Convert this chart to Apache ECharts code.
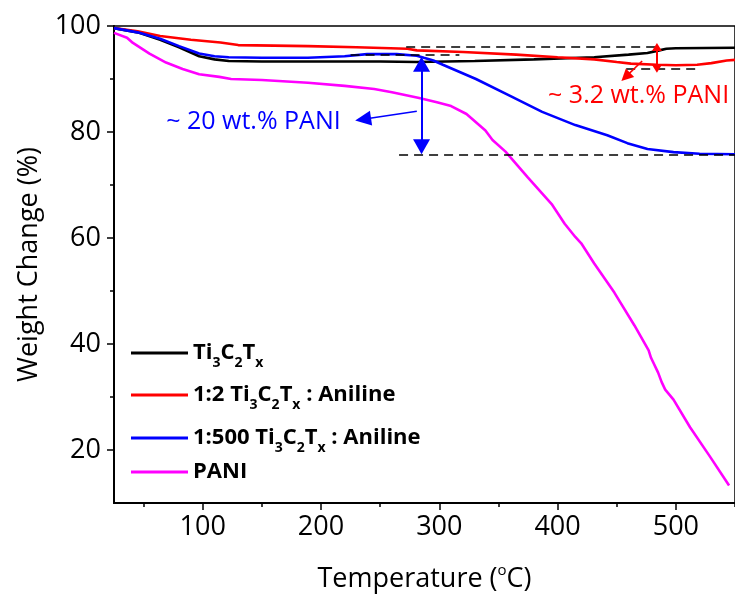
<!DOCTYPE html>
<html>
<head>
<meta charset="utf-8">
<script src="https://cdn.jsdelivr.net/npm/echarts@6/dist/echarts.min.js"></script>
<style>
  html, body { margin: 0; padding: 0; background: #fff; }
  #chart { width: 735px; height: 600px; }
</style>
</head>
<body>
<div id="chart"></div>
<script>
// TGA curves: temperature (°C) vs. remaining weight (%)
const tiTemp   = [25, 45, 64, 80, 97, 110, 122, 150, 200, 250, 281, 330, 380, 431, 460, 476, 486, 492, 500, 550];
const tiWeight = [99.6, 98.8, 97.4, 96.0, 94.3, 93.7, 93.4, 93.3, 93.3, 93.3, 93.2, 93.4, 93.7, 94.1, 94.6, 94.9, 95.4, 95.7, 95.8, 95.9];

const r2Temp   = [25, 45, 64, 90, 115, 130, 160, 189, 230, 273, 281, 320, 365, 400, 431, 450, 462, 484, 500, 518, 530, 543, 550];
const r2Weight = [99.6, 99.0, 98.1, 97.4, 96.9, 96.4, 96.3, 96.2, 96.0, 95.7, 95.4, 95.1, 94.6, 94.1, 93.7, 93.2, 92.9, 92.7, 92.6, 92.7, 93.0, 93.5, 93.6];

const r500Temp   = [25, 45, 64, 80, 97, 110, 122, 150, 189, 220, 239, 264, 281, 287, 295, 303, 331, 359, 387, 415, 442, 459, 476, 498, 520, 550];
const r500Weight = [99.6, 98.8, 97.6, 96.2, 94.8, 94.3, 94.1, 94.0, 94.0, 94.3, 94.7, 94.7, 94.4, 94.0, 93.5, 92.7, 90.0, 86.9, 83.8, 81.3, 79.4, 77.9, 76.8, 76.2, 75.9, 75.8];

const paniTemp   = [25, 36, 41, 55, 69, 83, 97, 114, 124, 150, 189, 220, 245, 260, 283, 298, 310, 323, 339, 345, 356, 375, 395, 406, 415, 420, 431, 448, 465, 477, 479, 485, 488, 491, 498, 512, 529, 545];
const paniWeight = [98.7, 97.8, 96.8, 94.8, 93.1, 91.9, 90.9, 90.4, 90.0, 89.8, 89.3, 88.7, 88.1, 87.5, 86.4, 85.6, 84.9, 83.4, 80.3, 78.5, 76.3, 71.4, 66.4, 62.7, 60.2, 59.0, 55.2, 49.7, 43.5, 38.8, 37.4, 34.6, 32.8, 31.4, 29.5, 24.3, 18.7, 13.3];

const seriesNames = ['Ti3C2Tx', '1:2 Ti3C2Tx : Aniline', '1:500 Ti3C2Tx : Aniline', 'PANI'];

const xTickLabels = [100, 200, 300, 400, 500];
const xMinorTicks = [50, 150, 250, 350, 450, 550];
const yTickLabels = [20, 40, 60, 80, 100];
const yMinorTicks = [30, 50, 70, 90];

// Annotation geometry (data units)
const pureLevel = 96.1, compositeLevel2 = 92.0;      // plateau levels for the 1:2 sample
const pureLevelShort = 94.6;
const residue500 = 75.8;                             // final residue of the 1:500 sample
const label20 = '~ 20 wt.% PANI';
const label32 = '~ 3.2 wt.% PANI';

const zip = (xs, ys) => xs.map((x, i) => [x, ys[i]]);

const FONT = 'Open Sans';
const sub = '{n|Ti}{s|3}{n|C}{s|2}{n|T}{s|x}';
const legendText = {
  'Ti3C2Tx': sub,
  '1:2 Ti3C2Tx : Aniline': '{n|1:2 }' + sub + '{n| : Aniline}',
  '1:500 Ti3C2Tx : Aniline': '{n|1:500 }' + sub + '{n| : Aniline}',
  'PANI': '{n|PANI}'
};
// subscripts: a top padding pushes the glyphs below the main baseline
const legendRich = {
  n: { fontFamily: FONT, fontWeight: 'bold', fontSize: 22, lineHeight: 26, color: '#000', verticalAlign: 'middle' },
  s: { fontFamily: FONT, fontWeight: 'bold', fontSize: 14, lineHeight: 2, padding: [20, 0, 0, 0], color: '#000', verticalAlign: 'middle' }
};
const legendTops = [336, 378, 421, 461];

const dashed = { type: [9, 6], width: 1.6, color: '#000' };
const noLabel = { show: false };

function lineSeries(name, data, color, extra) {
  return Object.assign({
    name, type: 'line', data, color,
    xAxisIndex: 0, yAxisIndex: 0,
    showSymbol: false, symbol: 'none', smooth: false,
    lineStyle: { width: 2.6, color },
    emphasis: { disabled: true },
    animation: false
  }, extra || {});
}

const chart = echarts.init(document.getElementById('chart'), null, { renderer: 'canvas' });

const option = {
  backgroundColor: '#fff',
  animation: false,
  grid: { left: 114, top: 26, right: -7, bottom: 90, show: true, borderColor: '#000', borderWidth: 1.5, backgroundColor: 'transparent' },
  legend: seriesNames.map((name, i) => ({
    data: [name], orient: 'vertical', left: 131, top: legendTops[i], padding: 0,
    itemWidth: 57, itemHeight: 3, icon: 'rect', selectedMode: false,
    formatter: n => legendText[n],
    textStyle: { rich: legendRich }
  })),
  xAxis: [{
    type: 'value', min: 25, max: 550, position: 'bottom',
    name: 'Temperature ({sup|o}C)', nameLocation: 'middle', nameGap: 60,
    nameTextStyle: { fontFamily: FONT, fontSize: 27, color: '#000', lineHeight: 32,
      rich: { sup: { fontFamily: FONT, fontSize: 15, lineHeight: 10, verticalAlign: 'top', color: '#000' } } },
    axisLine: { show: true, onZero: false, lineStyle: { color: '#000', width: 2 } },
    axisTick: { show: true, inside: false, length: 7, customValues: xTickLabels, lineStyle: { color: '#000', width: 1.5 } },
    axisLabel: { customValues: xTickLabels, fontFamily: FONT, fontSize: 27, color: '#000', margin: 11 },
    splitLine: { show: false }
  }, {
    type: 'value', min: 25, max: 550, position: 'bottom',
    axisLine: { show: false },
    axisTick: { show: true, inside: false, length: 4, customValues: xMinorTicks, lineStyle: { color: '#000', width: 1.5 } },
    axisLabel: { show: false },
    splitLine: { show: false }
  }],
  yAxis: [{
    type: 'value', min: 10, max: 100, position: 'left',
    name: 'Weight Change (%)', nameLocation: 'middle', nameGap: 71,
    nameTextStyle: { fontFamily: FONT, fontSize: 27, color: '#000' },
    axisLine: { show: true, onZero: false, lineStyle: { color: '#000', width: 2 } },
    axisTick: { show: true, inside: false, length: 7, customValues: yTickLabels, lineStyle: { color: '#000', width: 1.5 } },
    axisLabel: { customValues: yTickLabels, fontFamily: FONT, fontSize: 27, color: '#000', margin: 13 },
    splitLine: { show: false }
  }, {
    type: 'value', min: 10, max: 100, position: 'left',
    axisLine: { show: false },
    axisTick: { show: true, inside: false, length: 4, customValues: yMinorTicks, lineStyle: { color: '#000', width: 1.5 } },
    axisLabel: { show: false },
    splitLine: { show: false }
  }],
  series: [
    lineSeries(seriesNames[0], zip(tiTemp, tiWeight), '#000000'),
    lineSeries(seriesNames[1], zip(r2Temp, r2Weight), '#ff0000', {
      markLine: {
        silent: true, animation: false, label: noLabel, emphasis: { disabled: true },
        symbol: ['none', 'none'],
        data: [
          // plateau guides
          [{ coord: [272, pureLevel], lineStyle: dashed }, { coord: [484, pureLevel] }],
          [{ coord: [225, pureLevelShort], lineStyle: dashed }, { coord: [317, pureLevelShort] }],
          [{ coord: [458, compositeLevel2], lineStyle: dashed }, { coord: [517, compositeLevel2] }],
          // double arrow between the two plateaus
          [{ coord: [484, 96.05], symbol: 'triangle', symbolSize: [10, 8], lineStyle: { type: 'solid', width: 2, color: '#ff0000' } },
           { coord: [484, 91.95], symbol: 'triangle', symbolSize: [10, 8] }],
          // pointer towards the label
          [{ coord: [471.5, 93.4], symbol: 'none', lineStyle: { type: 'solid', width: 1.6, color: '#ff0000' } },
           { coord: [457.6, 90.4], symbol: 'triangle', symbolSize: [12, 12] }]
        ]
      },
      markPoint: {
        silent: true, animation: false, symbol: 'circle', symbolSize: 1,
        itemStyle: { color: 'rgba(0,0,0,0)' },
        data: [{ coord: [468.5, 86.85],
          label: { show: true, position: 'inside', formatter: label32, color: '#ff0000', fontFamily: FONT, fontSize: 25 } }]
      }
    }),
    lineSeries(seriesNames[2], zip(r500Temp, r500Weight), '#0000ff', {
      markLine: {
        silent: true, animation: false, label: noLabel, emphasis: { disabled: true },
        symbol: ['none', 'none'],
        data: [
          [{ coord: [266, residue500], lineStyle: dashed }, { coord: [550, residue500] }],
          // double arrow spanning the weight loss
          [{ coord: [285, 92.8], symbol: 'triangle', symbolSize: [17, 15], lineStyle: { type: 'solid', width: 2, color: '#0000ff' } },
           { coord: [285, 77.2], symbol: 'triangle', symbolSize: [17, 15] }],
          // pointer towards the label
          [{ coord: [281, 83.9], symbol: 'none', lineStyle: { type: 'solid', width: 1.6, color: '#0000ff' } },
           { coord: [235.6, 82.4], symbol: 'triangle', symbolSize: [15, 16] }]
        ]
      },
      markPoint: {
        silent: true, animation: false, symbol: 'circle', symbolSize: 1,
        itemStyle: { color: 'rgba(0,0,0,0)' },
        data: [{ coord: [142.9, 81.96],
          label: { show: true, position: 'inside', formatter: label20, color: '#0000ff', fontFamily: FONT, fontSize: 25 } }]
      }
    }),
    lineSeries(seriesNames[3], zip(paniTemp, paniWeight), '#ff00ff')
  ]
};

chart.setOption(option);
</script>
</body>
</html>
